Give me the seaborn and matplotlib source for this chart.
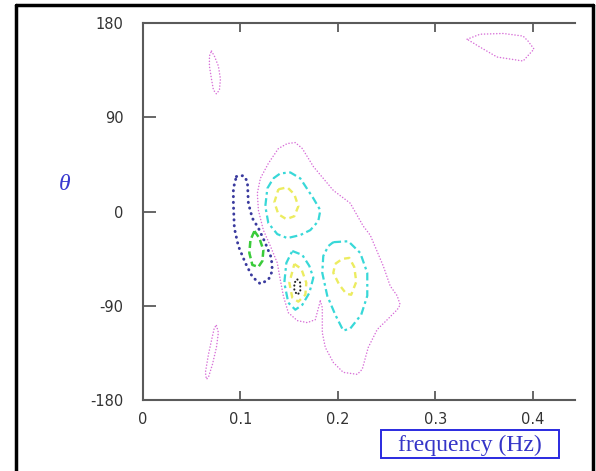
import numpy as np
import pandas as pd
import matplotlib
matplotlib.use("Agg")
import matplotlib.pyplot as plt
import seaborn as sns
from matplotlib.patches import Rectangle
from matplotlib.lines import Line2D

# ---------------- data ----------------
x_ticks = [0, 0.1, 0.2, 0.3, 0.4]
x_tick_labels = ["0", "0.1", "0.2", "0.3", "0.4"]
y_ticks = [-180, -90, 0, 90, 180]
y_tick_labels = ["-180", "-90", "0", "90", "180"]
x_label = "frequency (Hz)"
y_label = "θ"

# magenta (outermost level) contours
mag1_x = [0.0703, 0.0733, 0.0774, 0.0795, 0.0785, 0.0754, 0.0723, 0.0703, 0.0682, 0.0682, 0.0703]
mag1_y = [153.2, 148.4, 138.9, 126.6, 116.1, 112.3, 116.1, 126.6, 138.9, 148.4, 153.2]

mag2_x = [0.3328, 0.3462, 0.3700, 0.3903, 0.3954, 0.4015, 0.3903, 0.3636, 0.3462, 0.3328]
mag2_y = [164.5, 169.3, 170.0, 167.5, 162.7, 155.1, 143.7, 147.5, 156.9, 164.5]

mag3_x = [0.0754, 0.0774, 0.0754, 0.0713, 0.0672, 0.0651, 0.0641, 0.0672, 0.0703, 0.0733, 0.0754]
mag3_y = [-108.9, -115.6, -129.8, -146.0, -158.3, -160.2, -153.6, -136.5, -123.2, -110.8, -108.9]

mag4_x = [0.1821, 0.1841, 0.1841, 0.1872, 0.1954, 0.2056, 0.2200, 0.2251, 0.2313, 0.2405,
          0.2508, 0.2610, 0.2641, 0.2610, 0.2538, 0.2467, 0.2333, 0.2262, 0.2128, 0.1954,
          0.1749, 0.1636, 0.1564, 0.1482, 0.1390, 0.1287, 0.1205, 0.1174, 0.1185, 0.1236,
          0.1308, 0.1379, 0.1410, 0.1441, 0.1492, 0.1585, 0.1687, 0.1769, 0.1821]
mag4_y = [-85.3, -91.8, -115.6, -129.8, -144.1, -153.6, -155.5, -150.7, -129.8, -112.7,
          -103.3, -93.8, -89.1, -80.5, -71.0, -52.0, -22.5, -14.0, 7.9, 20.2,
          43.0, 60.1, 65.8, 64.9, 60.1, 45.9, 31.6, 17.4, 1.2, -17.8,
          -33.0, -49.1, -65.3, -80.5, -96.6, -104.2, -106.1, -103.3, -85.3]

# cyan contours
cyan1_x = [0.1338, 0.1410, 0.1513, 0.1615, 0.1749, 0.1821, 0.1800, 0.1718, 0.1615, 0.1482,
           0.1379, 0.1287, 0.1256, 0.1277, 0.1338]
cyan1_y = [31.6, 36.4, 37.3, 31.6, 12.6, 1.2, -9.2, -17.8, -22.5, -25.4,
           -21.6, -11.1, 5.0, 22.1, 31.6]

cyan2_x = [0.1533, 0.1636, 0.1708, 0.1749, 0.1708, 0.1636, 0.1564, 0.1492, 0.1451, 0.1472, 0.1533]
cyan2_y = [-37.7, -41.5, -52.0, -63.3, -77.7, -89.1, -93.8, -87.1, -68.1, -49.1, -37.7]

cyan3_x = [0.1954, 0.2108, 0.2231, 0.2303, 0.2303, 0.2241, 0.2128, 0.2056, 0.1974, 0.1892,
           0.1841, 0.1851, 0.1903, 0.1954]
cyan3_y = [-29.3, -28.4, -39.6, -58.6, -80.5, -98.5, -111.8, -113.7, -98.5, -80.5,
           -58.6, -42.5, -33.0, -29.3]

# yellow contours
yel1_x = [0.1390, 0.1482, 0.1554, 0.1595, 0.1554, 0.1472, 0.1390, 0.1349, 0.1390]
yel1_y = [21.2, 23.1, 16.4, 5.0, -4.5, -7.3, -2.6, 8.8, 21.2]

yel2_x = [0.1554, 0.1626, 0.1677, 0.1667, 0.1595, 0.1533, 0.1503, 0.1554]
yel2_y = [-50.1, -54.8, -68.1, -79.5, -86.1, -82.3, -68.1, -50.1]

yel3_x = [0.1974, 0.2046, 0.2118, 0.2169, 0.2190, 0.2138, 0.2087, 0.2015, 0.1954, 0.1974]
yel3_y = [-50.0, -45.3, -44.3, -52.9, -67.1, -79.5, -78.5, -69.9, -58.6, -50.0]

# blue (dark, dotted) contour
blue_x = [0.0959, 0.1031, 0.1072, 0.1082, 0.1123, 0.1185, 0.1256, 0.1318, 0.1328, 0.1287,
          0.1205, 0.1123, 0.1051, 0.0979, 0.0938, 0.0928, 0.0928, 0.0959]
blue_y = [33.4, 34.3, 28.8, 7.9, -6.4, -15.8, -30.1, -44.3, -56.7, -65.3,
          -69.1, -62.4, -49.1, -33.0, -15.8, 7.9, 22.1, 33.4]

# green contour
green_x = [0.1144, 0.1195, 0.1236, 0.1226, 0.1185, 0.1123, 0.1092, 0.1103, 0.1144]
green_y = [-18.7, -25.4, -36.8, -47.2, -52.9, -51.0, -39.6, -27.4, -18.7]

# black innermost contour
black_x = [0.1585, 0.1615, 0.1615, 0.1585, 0.1554, 0.1554, 0.1585]
black_y = [-64.9, -68.1, -76.6, -79.5, -75.7, -68.1, -64.9]

# ---------------- styles ----------------
styles = {
    "magenta": dict(color="#d870d8", lw=1.1, linestyle=(0, (0.1, 1.9)),
                    dash_capstyle="round"),
    "cyan": dict(color="#38d8d8", lw=1.6, linestyle=(0, (3.5, 1.6, 1.2, 1.6)),
                 dash_capstyle="butt"),
    "yellow": dict(color="#ecec60", lw=1.7, linestyle=(0, (2.6, 1.8)),
                   dash_capstyle="butt"),
    "blue": dict(color="#3a3a9e", lw=2.1, linestyle=(0, (0.1, 1.9)),
                 dash_capstyle="round"),
    "green": dict(color="#3acb3a", lw=1.8, linestyle=(0, (2.8, 1.4)),
                  dash_capstyle="butt"),
    "black": dict(color="#222222", lw=1.5, linestyle=(0, (0.1, 1.8)),
                  dash_capstyle="round"),
}

contours = [
    (mag1_x, mag1_y, "magenta"), (mag2_x, mag2_y, "magenta"),
    (mag3_x, mag3_y, "magenta"), (mag4_x, mag4_y, "magenta"),
    (cyan1_x, cyan1_y, "cyan"), (cyan2_x, cyan2_y, "cyan"), (cyan3_x, cyan3_y, "cyan"),
    (yel1_x, yel1_y, "yellow"), (yel2_x, yel2_y, "yellow"), (yel3_x, yel3_y, "yellow"),
    (blue_x, blue_y, "blue"), (green_x, green_y, "green"), (black_x, black_y, "black"),
]

# ---------------- figure ----------------
sns.set_style("white")
plt.rcParams["font.family"] = ["DejaVu Sans"]

W, H = 596, 471
fig = plt.figure(figsize=(W / 100, H / 100), dpi=100)
fig.patch.set_facecolor("white")
ax_l, ax_r, ax_t, ax_b = 143, 575, 23, 400
ax = fig.add_axes([ax_l / W, 1 - ax_b / H, (ax_r - ax_l) / W, (ax_b - ax_t) / H])

for cx, cy, key in contours:
    df = pd.DataFrame({"x": cx, "y": cy})
    sns.lineplot(data=df, x="x", y="y", sort=False, estimator=None, ax=ax,
                 **styles[key])

ax.set_xlim(0, 0.4436)
ax.set_ylim(-180, 180)
ax.set_xticks(x_ticks)
ax.set_xticklabels(x_tick_labels)
ax.set_yticks(y_ticks)
ax.set_yticklabels(y_tick_labels)
ax.set_xlabel("")
ax.set_ylabel("")

for side in ["left", "bottom", "top"]:
    ax.spines[side].set_visible(True)
    ax.spines[side].set_color("#5a5a5a")
    ax.spines[side].set_linewidth(1.5)
ax.spines["right"].set_visible(False)

ax.tick_params(axis="x", which="both", direction="in", length=6.5, width=1.3,
               color="#5a5a5a", top=True, bottom=True, labeltop=False,
               pad=9, labelsize=10.5, labelcolor="#333333")
ax.tick_params(axis="y", which="both", direction="in", length=9, width=1.3,
               color="#5a5a5a", left=True, right=False,
               pad=14, labelsize=10.5, labelcolor="#333333")

# axis labels as in the reference
fig.text(65 / W, 1 - 184 / H, y_label, family=["Liberation Serif", "DejaVu Serif"],
         style="italic", fontsize=17, color="#3a3ad0", ha="center", va="center")

fig.add_artist(Rectangle((381 / W, 1 - 458 / H), 178 / W, 28 / H,
                         transform=fig.transFigure, fill=False, ec="#2a2ae0", lw=1.4))
fig.text(470 / W, 1 - 445 / H, x_label, family=["Liberation Serif", "DejaVu Serif"],
         fontsize=17, color="#3535c8", ha="center", va="center")

# outer frame
lw_frame = 2.5
fig.add_artist(Line2D([16 / W, 16 / W], [0, 1 - 5 / H], transform=fig.transFigure,
                      color="black", lw=lw_frame))
fig.add_artist(Line2D([16 / W, 593 / W], [1 - 5 / H, 1 - 5 / H], transform=fig.transFigure,
                      color="black", lw=lw_frame))
fig.add_artist(Line2D([593 / W, 593 / W], [0, 1 - 5 / H], transform=fig.transFigure,
                      color="black", lw=lw_frame))

fig.savefig("out.png", dpi=100)
